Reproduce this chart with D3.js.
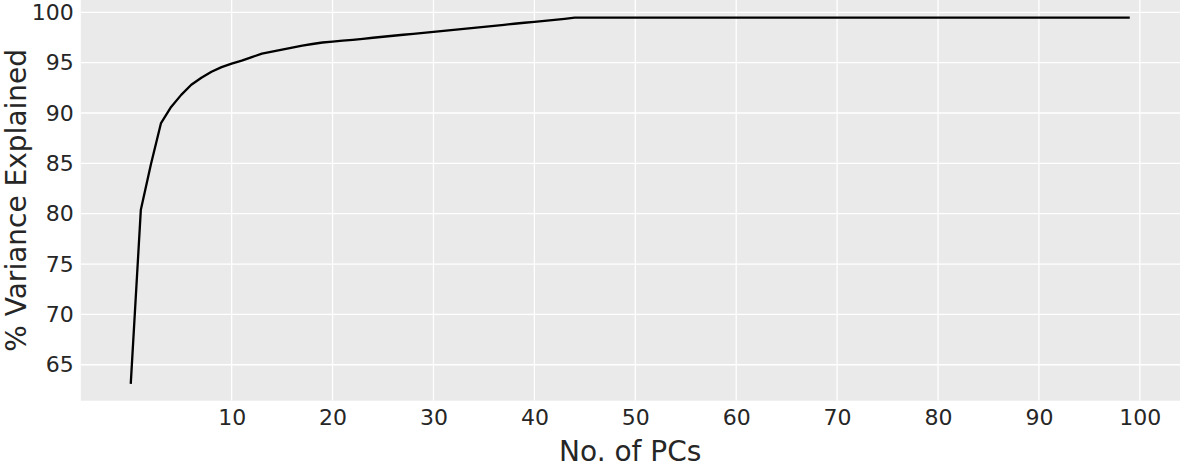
<!DOCTYPE html>
<html>
<head>
<meta charset="utf-8">
<script src="https://cdn.jsdelivr.net/npm/d3@7/dist/d3.min.js"></script>
<style>
  html, body { margin: 0; padding: 0; background: #ffffff; }
  svg { display: block; font-family: "DejaVu Sans", sans-serif; }
</style>
</head>
<body>
<svg id="chart" width="1180" height="467"></svg>
<script>
// ---- data ----
const pcIndex = [
  0,1,2,3,4,5,6,7,8,9,
  10,11,12,13,14,15,16,17,18,19,
  20,21,22,23,24,25,26,27,28,29,
  30,31,32,33,34,35,36,37,38,39,
  40,41,42,43,44,45,46,47,48,49,
  50,51,52,53,54,55,56,57,58,59,
  60,61,62,63,64,65,66,67,68,69,
  70,71,72,73,74,75,76,77,78,79,
  80,81,82,83,84,85,86,87,88,89,
  90,91,92,93,94,95,96,97,98,99
];
const varianceExplained = [
  63.1, 80.4, 84.9, 89.0, 90.6, 91.8, 92.8, 93.5, 94.1, 94.55,
  94.9, 95.2, 95.55, 95.9, 96.1, 96.3, 96.5, 96.7, 96.85, 97.0,
  97.08, 97.18, 97.27, 97.37, 97.47, 97.57, 97.67, 97.77, 97.86, 97.96,
  98.06, 98.16, 98.26, 98.36, 98.46, 98.56, 98.66, 98.76, 98.86, 98.96,
  99.05, 99.15, 99.25, 99.35, 99.47, 99.47, 99.47, 99.47, 99.47, 99.47,
  99.47, 99.47, 99.47, 99.47, 99.47, 99.47, 99.47, 99.47, 99.47, 99.47,
  99.47, 99.47, 99.47, 99.47, 99.47, 99.47, 99.47, 99.47, 99.47, 99.47,
  99.47, 99.47, 99.47, 99.47, 99.47, 99.47, 99.47, 99.47, 99.47, 99.47,
  99.47, 99.47, 99.47, 99.47, 99.47, 99.47, 99.47, 99.47, 99.47, 99.47,
  99.47, 99.47, 99.47, 99.47, 99.47, 99.47, 99.47, 99.47, 99.47, 99.47
];
const xTicks = [10, 20, 30, 40, 50, 60, 70, 80, 90, 100];
const yTicks = [65, 70, 75, 80, 85, 90, 95, 100];
const xLabel = "No. of PCs";
const yLabel = "% Variance Explained";

// ---- layout ----
const plot = { left: 80.8, right: 1180, top: 0, bottom: 400.7 };
const svg = d3.select("#chart");

const x = d3.scaleLinear().domain([-4.95, 103.95]).range([plot.left, 1179.7]);
const y = d3.scaleLinear().domain([61.43, 101.22]).range([plot.bottom, plot.top]);

// background
svg.append("rect")
  .attr("x", plot.left).attr("y", plot.top)
  .attr("width", plot.right - plot.left).attr("height", plot.bottom - plot.top)
  .attr("fill", "#EAEAEA");

// grid
const grid = svg.append("g");
grid.selectAll(".vx").data(xTicks).enter().append("line")
  .attr("x1", d => x(d)).attr("x2", d => x(d))
  .attr("y1", plot.top).attr("y2", plot.bottom)
  .attr("stroke", "#ffffff").attr("stroke-width", 1.3);
grid.selectAll(".hy").data(yTicks).enter().append("line")
  .attr("x1", plot.left).attr("x2", plot.right)
  .attr("y1", d => y(d)).attr("y2", d => y(d))
  .attr("stroke", "#ffffff").attr("stroke-width", 1.3);

// axes (labels only, no ticks/domain)
const xAxis = d3.axisBottom(x).tickValues(xTicks).tickSize(0).tickPadding(9).tickFormat(d3.format("d"));
const gx = svg.append("g").attr("transform", `translate(0,${plot.bottom})`).call(xAxis);
gx.select(".domain").remove();
gx.selectAll("text").attr("font-size", 22).attr("fill", "#262626")
  .attr("font-family", "DejaVu Sans, sans-serif");

const yAxis = d3.axisLeft(y).tickValues(yTicks).tickSize(0).tickPadding(7).tickFormat(d3.format("d"));
const gy = svg.append("g").attr("transform", `translate(${plot.left},0)`).call(yAxis);
gy.select(".domain").remove();
gy.selectAll("text").attr("font-size", 22).attr("fill", "#262626")
  .attr("font-family", "DejaVu Sans, sans-serif");

// line
const line = d3.line().x((d, i) => x(pcIndex[i])).y(d => y(d));
svg.append("path")
  .datum(varianceExplained)
  .attr("d", line)
  .attr("fill", "none")
  .attr("stroke", "#000000")
  .attr("stroke-width", 2.3)
  .attr("stroke-linejoin", "round");

// axis labels
svg.append("text")
  .attr("x", (plot.left + 1179.7) / 2).attr("y", 461)
  .attr("text-anchor", "middle")
  .attr("font-size", 28).attr("fill", "#262626")
  .text(xLabel);

svg.append("text")
  .attr("transform", `translate(26,${(plot.top + plot.bottom) / 2}) rotate(-90)`)
  .attr("text-anchor", "middle")
  .attr("font-size", 28).attr("fill", "#262626")
  .text(yLabel);
</script>
</body>
</html>
